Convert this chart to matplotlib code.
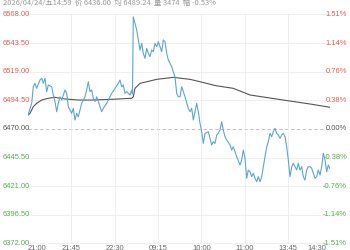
import matplotlib
matplotlib.use("Agg")
import matplotlib.pyplot as plt
import matplotlib.transforms as mtransforms

# intraday price samples (t = position along the session)
t_price = [0, 3.7, 5.3, 7, 8.7, 12, 13.7, 15.3, 17, 18.7, 20.3, 23.7, 25.3, 27, 28.7, 30.3, 32, 33.7,
           37, 38.7, 40.3, 42, 43.7, 45.3, 47, 48.7, 50.3, 53.7, 57, 58.7, 60.3, 62, 63.7, 65.3, 67,
           68.7, 72, 73.7, 75.3, 78.7, 82, 83.7, 87, 90.3, 92, 93.7, 95.3, 97, 98.7, 102, 103.7, 104.5,
           105.3, 108.7, 110.3, 112, 113.7, 115.3, 117, 118.7, 120.3, 122, 123.7, 125.3, 127, 128.7,
           130.3, 132, 133.7, 135.3, 137, 138.7, 140.3, 142, 143.7, 145.3, 147, 148.7, 150.3, 152,
           153.7, 157, 160.3, 162, 163.7, 165.3, 168.7, 170.3, 172, 173.7, 175.3, 177, 180.3, 182,
           183.7, 185.3, 187, 188.7, 190.3, 192, 193.7, 195.3, 197, 198.7, 202, 203.7, 205.3, 207,
           208.7, 212, 213.7, 215.3, 217, 218.7, 220.3, 222, 223.7, 225.3, 227, 228.7, 230.3, 232,
           233.7, 235.3, 237, 238.7, 240.3, 242, 243.7, 245.3, 247, 248.7, 250.3, 252, 253.7, 255.3,
           257, 258.7, 260.3, 262, 263.7, 265.3, 267, 268.7, 270.3, 272, 273.7, 275.3, 277, 278.7,
           280.3, 282, 283.7, 285.3, 287, 288.7, 290.3, 292, 293.7, 295.3, 297, 298.7, 300.3, 302]
price = [6482.0, 6492.0, 6506.2, 6509.1, 6504.8, 6511.9, 6513.4, 6509.1, 6513.4, 6501.9, 6507.7,
         6506.2, 6499.1, 6493.4, 6484.8, 6492.0, 6497.6, 6494.8, 6503.4, 6500.5, 6489.1, 6486.3,
         6483.4, 6487.7, 6477.7, 6483.4, 6480.5, 6492.0, 6497.6, 6503.4, 6510.5, 6501.9, 6503.4,
         6496.3, 6493.4, 6497.6, 6489.1, 6484.8, 6487.7, 6492.0, 6497.6, 6500.5, 6504.8, 6509.1,
         6511.9, 6506.2, 6507.7, 6500.5, 6501.9, 6499.1, 6503.4, 6500.0, 6566.0, 6554.7, 6546.2,
         6537.6, 6543.3, 6534.8, 6530.5, 6539.1, 6534.8, 6531.9, 6537.6, 6536.2, 6543.3, 6540.4,
         6544.7, 6540.4, 6536.2, 6546.2, 6544.7, 6534.8, 6529.1, 6526.2, 6523.3, 6519.0, 6514.8,
         6500.5, 6497.6, 6497.6, 6506.2, 6497.6, 6487.7, 6484.8, 6487.7, 6477.7, 6492.0, 6484.8,
         6474.9, 6467.7, 6457.7, 6466.3, 6467.7, 6462.0, 6456.3, 6459.1, 6457.7, 6464.9, 6466.3,
         6469.1, 6476.2, 6469.1, 6463.4, 6460.6, 6456.3, 6452.0, 6454.8, 6450.6, 6446.3, 6439.2,
         6443.5, 6452.0, 6444.9, 6427.8, 6434.9, 6433.4, 6429.2, 6432.1, 6427.8, 6424.9, 6429.2,
         6424.9, 6429.2, 6437.7, 6446.3, 6454.8, 6459.1, 6466.3, 6463.4, 6467.7, 6470.6, 6466.3,
         6464.9, 6462.0, 6464.9, 6466.3, 6463.4, 6454.8, 6443.5, 6429.2, 6437.7, 6440.6, 6437.7,
         6434.9, 6440.6, 6434.9, 6437.7, 6429.2, 6426.3, 6434.9, 6437.7, 6437.7, 6436.3, 6432.1,
         6427.8, 6429.2, 6434.9, 6430.6, 6437.7, 6449.2, 6443.5, 6433.4, 6439.2, 6436.0]

# average price line
t_avg = [0, 2, 5.3, 8.7, 13.7, 20.3, 27, 37, 50.3, 63.7, 83.7, 103.7, 105.3, 107, 112, 122, 128.7,
         145.3, 162, 175.3, 187, 205.3, 222, 255.3, 282, 302]
avg = [6482.0, 6483.4, 6489.1, 6492.0, 6494.8, 6496.3, 6497.1, 6495.7, 6494.8, 6494.8, 6495.4,
       6496.3, 6497.6, 6504.8, 6509.1, 6511.1, 6512.5, 6514.2, 6512.5, 6509.8, 6507.2, 6504.8,
       6499.1, 6494.8, 6491.4, 6488.6]

prev_close = 6470.00
y_levels = [6568.00, 6543.50, 6519.00, 6494.50, 6470.00, 6445.50, 6421.00, 6396.50, 6372.00]
pct_labels = ["1.51%", "1.14%", "0.76%", "0.38%", "0.00%", "-0.38%", "-0.76%", "-1.14%", "-1.51%"]
time_labels = ["21:00", "21:45", "22:30", "09:15", "10:00", "11:00", "13:45", "14:30"]
header = "2026/04/24/五14:59  价 6436.00  均 6489.24  量 3474  幅 -0.53%"

red = "#e15b57"
green = "#4fae4f"
grey_txt = "#555555"

fig = plt.figure(figsize=(3.5, 2.5), dpi=100)
ax = fig.add_axes([28 / 350, 6.5 / 250, 302 / 350, 229 / 250])
ax.set_xlim(0, 302)
ax.set_ylim(min(y_levels), max(y_levels))
for s in ax.spines.values():
    s.set_visible(False)
ax.set_xticks([])
ax.set_yticks([])

# grid
for lv in y_levels:
    if lv == prev_close:
        ax.axhline(lv, color="#b5b5b5", lw=0.6, ls=(0, (4, 3)), zorder=1)
    else:
        ax.axhline(lv, color="#ededed", lw=0.6, zorder=1)
step = 302 / 7 * 1.005
for k in range(1, 7):
    ax.axvline(k * step, color="#ededed", lw=0.6, zorder=1)

ax.plot(t_price, price, color="#5da5d5", lw=0.8, zorder=3)
ax.plot(t_avg, avg, color="#555555", lw=0.8, zorder=2)

font = ["Liberation Sans", "DejaVu Sans"]
ytr = mtransforms.blended_transform_factory(fig.transFigure, ax.transData)
for lv, pl in zip(y_levels, pct_labels):
    c = red if lv > prev_close else (green if lv < prev_close else grey_txt)
    fig.text(3 / 350, lv, f"{lv:.2f}", transform=ytr, ha="left", va="center",
             fontsize=5.4, color=c, family=font)
    fig.text(347 / 350, lv, pl, transform=ytr, ha="right", va="center",
             fontsize=5.4, color=c, family=font)

xtr = mtransforms.blended_transform_factory(ax.transData, fig.transFigure)
for k, lab in enumerate(time_labels):
    last = k == len(time_labels) - 1
    ha = "left" if k == 0 else ("right" if last else "center")
    xpos = 298 if last else k * step
    fig.text(xpos, 5 / 250, lab, transform=xtr, ha=ha, va="top",
             fontsize=5.4, color="#666666", family=font)

fig.text(3 / 350, 1 - 4.5 / 250, header, ha="left", va="baseline", fontsize=5.4,
         color="#999999", family=["Noto Sans CJK SC", "DejaVu Sans"])

fig.savefig("out.png", dpi=100, facecolor="white")
